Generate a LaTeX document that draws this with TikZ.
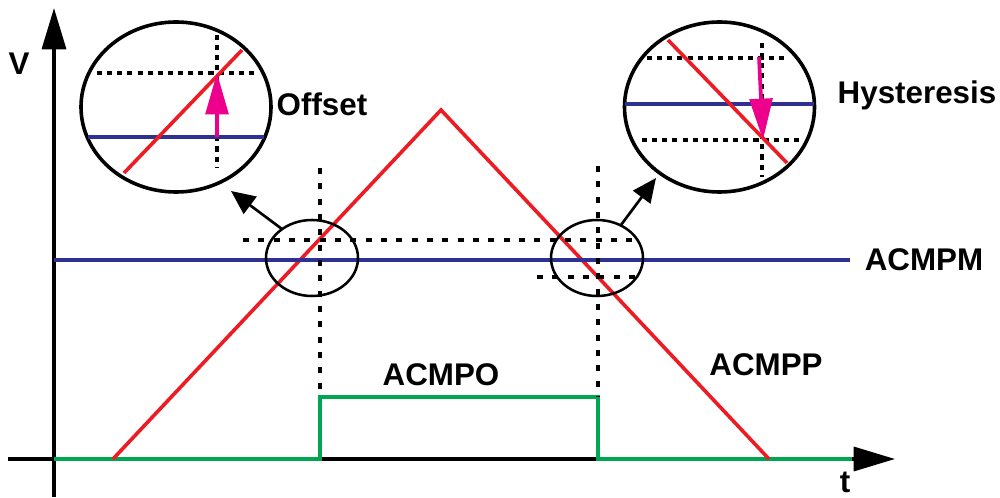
\documentclass[tikz,border=0pt]{standalone}
\usepackage{fontspec}
\setmainfont{Liberation Sans}
\usetikzlibrary{arrows.meta,shapes.geometric}
\definecolor{cred}{RGB}{237,28,36}
\definecolor{cblue}{RGB}{46,49,146}
\definecolor{cgreen}{RGB}{0,166,81}
\definecolor{cmag}{RGB}{236,0,140}
\tikzset{
  lbl/.style={font=\fontsize{23.5}{28}\selectfont\bfseries, inner sep=0pt},
  axisline/.style={line width=2.6pt, -{Triangle[length=31pt,width=18pt]}},
  redl/.style={cred, line width=2.7pt},
  bluel/.style={cblue, line width=2.9pt},
  greenl/.style={cgreen, line width=3.2pt},
  dashl/.style={line width=3pt, dash pattern=on 4.5pt off 7pt},
  thindash/.style={line width=2.3pt, dash pattern=on 3.8pt off 3.8pt},
  bigell/.style={draw, ellipse, line width=2.7pt, inner sep=0pt, outer sep=0pt,
    minimum width=142.5pt, minimum height=127.5pt},
  smallell/.style={draw, ellipse, line width=1.9pt, inner sep=0pt, outer sep=0pt,
    minimum width=69pt, minimum height=57pt},
  ptr/.style={line width=2pt, -{Triangle[length=18pt,width=16pt]}},
  magarrow/.style={cmag, line width=2.8pt, -{Triangle[length=31pt,width=17pt]}}
}
\begin{document}
\begin{tikzpicture}[x=0.75pt,y=-0.75pt]
\useasboundingbox (0,0) rectangle (1000,498);
% axes
\coordinate (vb) at (54,497);
\coordinate (vt) at (54,8);
\coordinate (hl) at (8,459);
\coordinate (hr) at (895,459);
\draw[axisline] (vb) -- (vt);
\draw[axisline] (hl) -- (hr);
\node[lbl] (V) at (19,64) {V};
\node[lbl] (t) at (845,482) {t};
% green ACMPO
\coordinate (g0) at (54,459);
\coordinate (g1) at (320,459);
\coordinate (g2) at (320,397);
\coordinate (g3) at (598,397);
\coordinate (g4) at (598,459);
\coordinate (g5) at (852,459);
\draw[greenl] (g0) -- (g1) -- (g2) -- (g3) -- (g4) -- (g5);
% red triangle ACMPP
\coordinate (r0) at (113,459);
\coordinate (r1) at (441,110);
\coordinate (r2) at (769,459);
\draw[redl, line join=miter] (r0) -- (r1) -- (r2);
% blue ACMPM
\coordinate (b0) at (54,260);
\coordinate (b1) at (850,260);
\draw[bluel] (b0) -- (b1);
% dashed guides
\coordinate (d1t) at (320,168);
\coordinate (d1b) at (320,397);
\coordinate (d2t) at (598,166);
\coordinate (d2b) at (598,397);
\coordinate (h1l) at (243,240);
\coordinate (h1r) at (640,240);
\coordinate (h2l) at (537,277);
\coordinate (h2r) at (640,277);
\draw[dashl] (d1t) -- (d1b);
\draw[dashl] (d2t) -- (d2b);
\draw[dashl] (h1l) -- (h1r);
\draw[dashl] (h2l) -- (h2r);
% ellipses
\node[smallell] (se1) at (312,258) {};
\node[smallell] (se2) at (597,258) {};
\node[bigell] (be1) at (176,107) {};
\node[bigell] (be2) at (719.5,107) {};
\coordinate (p1e) at (231,191);
\coordinate (p2e) at (656,178);
\draw[ptr] (se1.136) -- (p1e);
\draw[ptr] (se2.54) -- (p2e);
% left big ellipse contents (Offset)
\coordinate (lo1) at (97,73);
\coordinate (lo2) at (257,73);
\coordinate (lo3) at (217,35);
\coordinate (lo4) at (217,168);
\draw[thindash] (lo1) -- (lo2);
\draw[thindash] (lo3) -- (lo4);
\coordinate (lb0) at (88,137);
\coordinate (lb1) at (264,137);
\draw[bluel] (lb0) -- (lb1);
\coordinate (lr0) at (124,173);
\coordinate (lr1) at (242,50);
\draw[redl] (lr0) -- (lr1);
\coordinate (lm0) at (217,137);
\coordinate (lm1) at (217,73);
\draw[magarrow] (lm0) -- (lm1);
\node[lbl] (off) at (322,104) {Offset};
% right big ellipse contents (Hysteresis)
\coordinate (ro1) at (647,58);
\coordinate (ro2) at (787,58);
\coordinate (ro3) at (642,140);
\coordinate (ro4) at (800,140);
\coordinate (ro5) at (762,43);
\coordinate (ro6) at (762,177);
\draw[thindash] (ro1) -- (ro2);
\draw[thindash] (ro3) -- (ro4);
\draw[thindash] (ro5) -- (ro6);
\coordinate (rb0) at (625,104);
\coordinate (rb1) at (814,104);
\draw[bluel] (rb0) -- (rb1);
\coordinate (rr0) at (668,40);
\coordinate (rr1) at (787,163);
\draw[redl] (rr0) -- (rr1);
\coordinate (rm0) at (759,57);
\coordinate (rm1) at (763,140);
\draw[magarrow] (rm0) -- (rm1);
\node[lbl] (hys) at (917,95) {Hysteresis};
% labels
\node[lbl] (acmpm) at (924,260) {ACMPM};
\node[lbl] (acmpo) at (441,375) {ACMPO};
\node[lbl] (acmpp) at (766,365) {ACMPP};
\end{tikzpicture}
\end{document}
